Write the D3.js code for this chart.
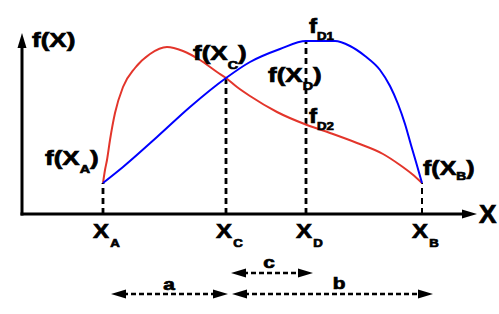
<!DOCTYPE html>
<html>
<head>
<meta charset="utf-8">
<script src="https://cdn.jsdelivr.net/npm/d3@7"></script>
<style>
  html, body { margin: 0; padding: 0; background: #fff; }
  svg { display: block; }
  text { font-family: "Liberation Sans", Arial, sans-serif; font-weight: bold; fill: #000; stroke: #000; stroke-width: 0.7px; }
</style>
</head>
<body>
<svg id="chart" width="499" height="314"></svg>
<script>
// ---- data (units) ----
const pointNames = ["A", "C", "D", "B"];
const pointX = [81, 204, 284, 400];
const guideTop = [31, 136, 173, 31];

const redX = [81, 83, 85, 88, 93, 101, 113, 128, 145, 161, 178, 195, 204, 215, 228, 255, 285, 308, 335, 361, 378, 390, 400];
const redY = [31, 44, 54, 74, 101, 127, 146, 160, 167, 163, 154, 142, 136, 127, 118, 102, 89, 81, 71, 60, 49, 40, 31];

const blueX = [81, 101, 135, 168, 204, 228, 258, 284, 313, 328, 343, 358, 368, 376, 383, 389, 394, 400];
const blueY = [31, 47, 77, 107, 136, 152, 165, 173, 173, 168, 158, 144, 128, 110, 90, 69, 52, 31];

const spanLabels = ["a", "c", "b"];
const spanFrom = [89, 209, 210];
const spanTo = [206, 291, 411];

// ---- scales ----
const svg = d3.select("#chart");
const x = d3.scaleLinear().domain([0, 455]).range([22, 477]);
const y = d3.scaleLinear().domain([0, 181]).range([214, 33]);

// ---- axes ----
const ax = svg.append("g");
ax.append("line").attr("x1", x(0)).attr("y1", y(0) + 1.5).attr("x2", x(0)).attr("y2", y(181) + 12)
  .attr("stroke", "#000").attr("stroke-width", 3);
ax.append("path")
  .attr("d", `M${x(0)},${y(181)} L${x(0) - 4.5},${y(181) + 15} L${x(0) + 4.5},${y(181) + 15} Z`)
  .attr("fill", "#000");
ax.append("line").attr("x1", x(0) - 1.5).attr("y1", y(0)).attr("x2", x(455) - 12).attr("y2", y(0))
  .attr("stroke", "#000").attr("stroke-width", 3);
ax.append("path")
  .attr("d", `M${x(455)},${y(0)} L${x(455) - 15},${y(0) - 4.5} L${x(455) - 15},${y(0) + 4.5} Z`)
  .attr("fill", "#000");

// ---- dashed guides ----
svg.append("g").selectAll("line").data(pointX).join("line")
  .attr("x1", d => x(d)).attr("x2", d => x(d))
  .attr("y1", y(0)).attr("y2", (d, i) => y(guideTop[i]))
  .attr("stroke", "#000").attr("stroke-width", (d, i) => i === 3 ? 2 : 2.8)
  .attr("stroke-dasharray", "6,4");

// ---- curves ----
const line = d3.line().x(d => x(d[0])).y(d => y(d[1])).curve(d3.curveMonotoneX);
svg.append("path").datum(d3.zip(redX, redY)).attr("d", line)
  .attr("fill", "none").attr("stroke", "#e3352b").attr("stroke-width", 2);
svg.append("path").datum(d3.zip(blueX, blueY)).attr("d", line)
  .attr("fill", "none").attr("stroke", "#0000ff").attr("stroke-width", 2);

// ---- label helper ----
function label(px, py, main, sub, tail, size, subSize, sx, subDy, subDx) {
  const t = svg.append("text")
    .attr("transform", `translate(${px},${py}) scale(${sx},1)`)
    .attr("font-size", size);
  t.append("tspan").text(main);
  if (sub) t.append("tspan").attr("font-size", subSize).attr("dy", subDy).attr("dx", subDx || 0).text(sub);
  if (tail) t.append("tspan").attr("dy", sub ? -subDy : 0).text(tail);
  return t;
}

// axis titles
label(32, 47, "f(X)", null, null, 20, 11, 1.3, 0);
label(479, 223, "X", null, null, 25, 11, 1.05, 0);

// tick labels
pointX.forEach((v, i) => {
  label(x(v) - 10, 238, "X", pointNames[i], null, 20, 11, 1.2, 9, 1);
});

// function labels
label(45, 165, "f(X", "A", ")", 20, 11, 1.3, 8);
label(193, 60, "f(X", "C", ")", 20, 11, 1.3, 9);
label(268, 82, "f(X", "D", ")", 20, 11, 1.3, 8);
label(423, 175, "f(X", "B", ")", 20, 11, 1.25, 5);
label(309, 33, "f", "D1", null, 20, 11, 1.2, 7);
label(309, 123, "f", "D2", null, 20, 11, 1.2, 7);

// ---- span arrows ----
const rowY = [294, 273, 294];
const labelY = [290, 268, 289];
const arrows = svg.append("g");
spanLabels.forEach((s, i) => {
  const x1 = x(spanFrom[i]), x2 = x(spanTo[i]), yy = rowY[i];
  arrows.append("line").attr("x1", x1 + 12).attr("x2", x2 - 12).attr("y1", yy).attr("y2", yy)
    .attr("stroke", "#000").attr("stroke-width", 2.5).attr("stroke-dasharray", "5,3");
  arrows.append("path")
    .attr("d", `M${x1},${yy} L${x1 + 15},${yy - 4.5} L${x1 + 15},${yy + 4.5} Z`).attr("fill", "#000");
  arrows.append("path")
    .attr("d", `M${x2},${yy} L${x2 - 15},${yy - 4.5} L${x2 - 15},${yy + 4.5} Z`).attr("fill", "#000");
});
const labelCx = [169, 269, 339];
spanLabels.forEach((s, i) => {
  svg.append("text")
    .attr("transform", `translate(${labelCx[i]},${labelY[i]}) scale(1.3,1)`)
    .attr("text-anchor", "middle").attr("font-size", 16).text(s);
});
</script>
</body>
</html>
